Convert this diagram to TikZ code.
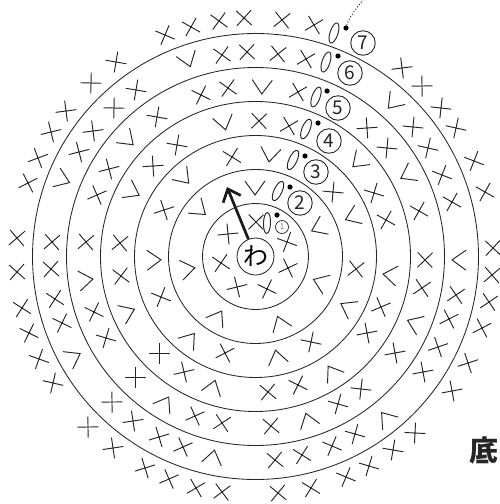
\documentclass[tikz,border=0pt]{standalone}
\usepackage{fontspec}
\usepackage{xcolor}
\newfontfamily\cjk{Noto Sans CJK JP}
\usetikzlibrary{arrows.meta}
\definecolor{inkgray}{HTML}{262626}
\tikzset{
  ringline/.style={draw=inkgray, line width=0.85pt},
  stitch/.style={draw=inkgray, line width=0.95pt},
  roundno/.style={circle, draw=inkgray, line width=0.9pt, minimum size=24.5pt, inner sep=0pt, text=inkgray, font=\cjk\fontsize{19}{19}\selectfont},
  knot/.style={circle, fill=black, inner sep=0pt, minimum size=5.2pt},
}
\def\cx{255.5}
\def\cy{256.5}
\begin{document}
\begin{tikzpicture}[x=1pt, y=-1pt]
\useasboundingbox (0,0) rectangle (500,504);
% rings
\foreach \r in {223,189,155,121,87,53}
  \draw[ringline] (\cx,\cy) circle (\r);
\node[circle, draw=inkgray, line width=0.85pt, minimum size=37pt, inner sep=0pt, font=\cjk\fontsize{25}{25}\selectfont] (wa) at (\cx,\cy) {わ};
% plain stitches, round 1 to round 7
\foreach \x/\y in {256/222,287/242,288/268,267/289,237/287,221/263,228/234,
  232/157,333/192,356/269,311/342,225/353,161/297,164/210,
  259/121,289/126,374/193,386/220,381/307,367/333,298/385,268/392,184/372,159/353,121/276,120/243,153/166,177/145,
  201/95,228/88,298/92,367/128,387/148,419/211,425/260,422/288,395/353,361/389,338/404,271/426,222/423,195/416,135/377,106/338,94/312,86/242,97/195,109/169,157/117,
  222/55,247/52,278/54,306/59,413/127,428/148,442/175,452/202,456/295,449/319,438/347,423/372,355/434,332/446,302/455,275/460,183/447,159/437,133/421,112/402,62/323,55/299,51/269,52/242,79/152,93/131,114/108,136/90,
  165/35,191/27,219/21,244/18,282/20,314/25,402/68,422/86,441/108,456/128,474/161,485/192,493/248,492/275,489/302,482/328,468/363,452/391,415/433,393/450,369/466,346/477,311/488,278/493,222/492,196/488,169/479,145/468,113/448,88/427,53/383,39/359,29/333,22/308,17/272,17/238,28/183,38/158,51/132,66/111,91/83,116/62} {
  \pgfmathsetmacro{\ang}{atan2(\cy-\y,\x-\cx)}
  \draw[stitch, shift={(\x,\y)}, rotate=\ang+45] (-10.5,0) -- (10.5,0) (0,-10.5) -- (0,10.5);
}
% increases
\foreach \x/\y in {255/188,318/228,320/282,280/323,218/317,188/269,200/210,
  270/155,352/217,347/307,277/357,190/339,154/260,184/178,
  224/123,358/162,390/275,332/372,213/387,128/312,133/192,
  262/87,407/175,414/323,308/420,165/403,86/280,128/140,
  188/60,393/103,459/260,386/418,213/457,74/357,63/180} {
  \pgfmathsetmacro{\ang}{atan2(\cy-\y,\x-\cx)}
  \draw[stitch, shift={(\x,\y)}, rotate=\ang] (7,10) -- (-7,0) -- (7,-10);
}
% chain, dot and number of each round
\foreach \i/\ox/\oy/\rot/\dx/\dy/\nx/\ny in {
  2/278/191/65/290/187/300/203,3/293/160/65/305/156/316/172,4/306/129/68/318/123/329/141,
  5/316/97/70/327/91/338/108,6/326/62/72/338/56/350/73,7/334/33/72/346/28/363/43} {
  \draw[stitch, rotate around={\rot:(\ox,\oy)}] (\ox,\oy) ellipse (10.5 and 4);
  \node[knot] (dot\i) at (\dx,\dy) {};
  \node[roundno] (no\i) at (\nx,\ny) {\i};
}
\draw[stitch, rotate around={88:(267,223)}] (267,223) ellipse (10.5 and 3.5);
\node[knot] (dot1) at (277,215) {};
\node[circle, draw=inkgray, line width=0.7pt, minimum size=13pt, inner sep=0pt, text=gray, font=\cjk\fontsize{8}{8}\selectfont] (no1) at (282,227) {1};
% start arrow and lead line
\coordinate (tip) at (227,187);
\coordinate (lead) at (363,0);
\draw[black!90, line width=2.7pt, -{Straight Barb[length=11pt, width=19pt, line width=2.7pt]}] (wa) -- (tip);
\draw[inkgray, dotted, line width=1pt] (dot7) .. controls (349,17) and (356,9) .. (lead);
\node[inner sep=0pt, font=\cjk\bfseries\fontsize{29}{29}\selectfont, text=inkgray] (base) at (484,450) {底};
\end{tikzpicture}
\end{document}
